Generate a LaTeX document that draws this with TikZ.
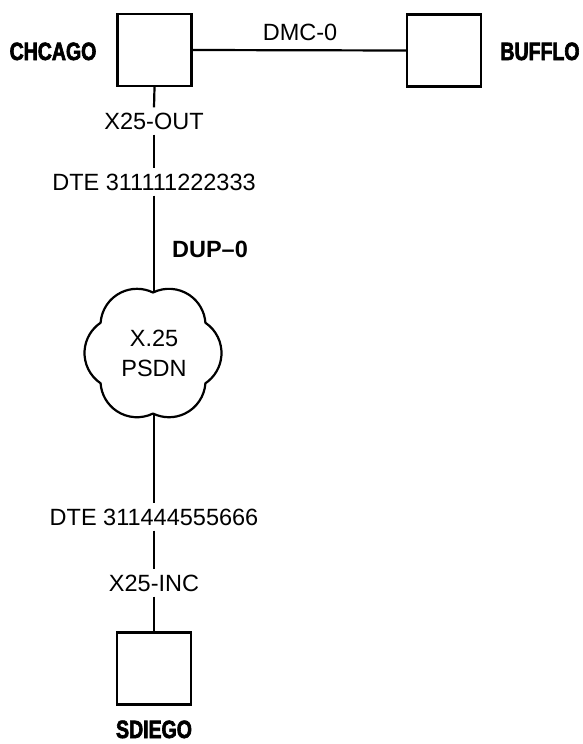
\documentclass[tikz,border=0pt]{standalone}
\usepackage{fontspec}
\setmainfont{Liberation Sans}
\newfontfamily\condbold{Liberation Sans}[FakeStretch=0.78,FakeBold=2.5]
\begin{document}
\begin{tikzpicture}[x=1pt,y=-1pt,
  lw/.style={line width=2.2pt},
  sysbox/.style={draw,lw,minimum width=74pt,minimum height=72pt,inner sep=0pt},
  sysname/.style={font=\condbold\bfseries\fontsize{25}{28}\selectfont,inner sep=0pt,anchor=base},
  lbl/.style={font=\fontsize{23.5}{28}\selectfont,text height=16.8pt,text depth=0pt,inner xsep=2pt,inner ysep=5pt},
  boldlbl/.style={font=\bfseries\fontsize{23.5}{28}\selectfont,inner sep=0pt},
  netnode/.style={circle,minimum size=122pt,inner sep=0pt,align=center,font=\fontsize{23.5}{30}\selectfont}]
\useasboundingbox (0,0) rectangle (582,744);
% boxes
\node[sysbox] (chi) at (154.5,50) {};
\node[sysbox] (buf) at (444,50.5) {};
\node[sysbox] (sdg) at (154,668.5) {};
% system names
\node[sysname] (chiname) at (53,60) {CHCAGO};
\node[sysname] (bufname) at (540,60) {BUFFLO};
\node[sysname] (sdgname) at (154,738) {SDIEGO};
% cloud
\begin{scope}[shift={(153,353.5)},yscale=-1]
  \draw[lw,line join=round] (90:61)
    \foreach \p in {60,0,-60,-120,-180,-240} { arc[start angle=\p+56, end angle=\p-56, radius=36.5] } -- cycle;
\end{scope}
\node[netnode] (psdn) at (154,353.5) {X.25\\PSDN};
% labels on the vertical line
\node[lbl] (xout) at (154,121) {X25-OUT};
\node[lbl] (dte1) at (154,182) {DTE 311111222333};
\node[lbl] (dte2) at (154,517) {DTE 311444555666};
\node[lbl] (xinc) at (154,583) {X25-INC};
\node[boldlbl] (dup) at (210,249) {DUP--0};
\node[lbl,inner sep=0pt] (dmc) at (300,32) {DMC-0};
% connectors
\draw[lw] (chi.east) -- (buf.west);
\draw[lw] (chi.south) -- (xout.north);
\draw[lw] (xout.south) -- (dte1.north);
\draw[lw] (dte1.south) -- (psdn.north);
\draw[lw] (psdn.south) -- (dte2.north);
\draw[lw] (dte2.south) -- (xinc.north);
\draw[lw] (xinc.south) -- (sdg.north);
\end{tikzpicture}
\end{document}
